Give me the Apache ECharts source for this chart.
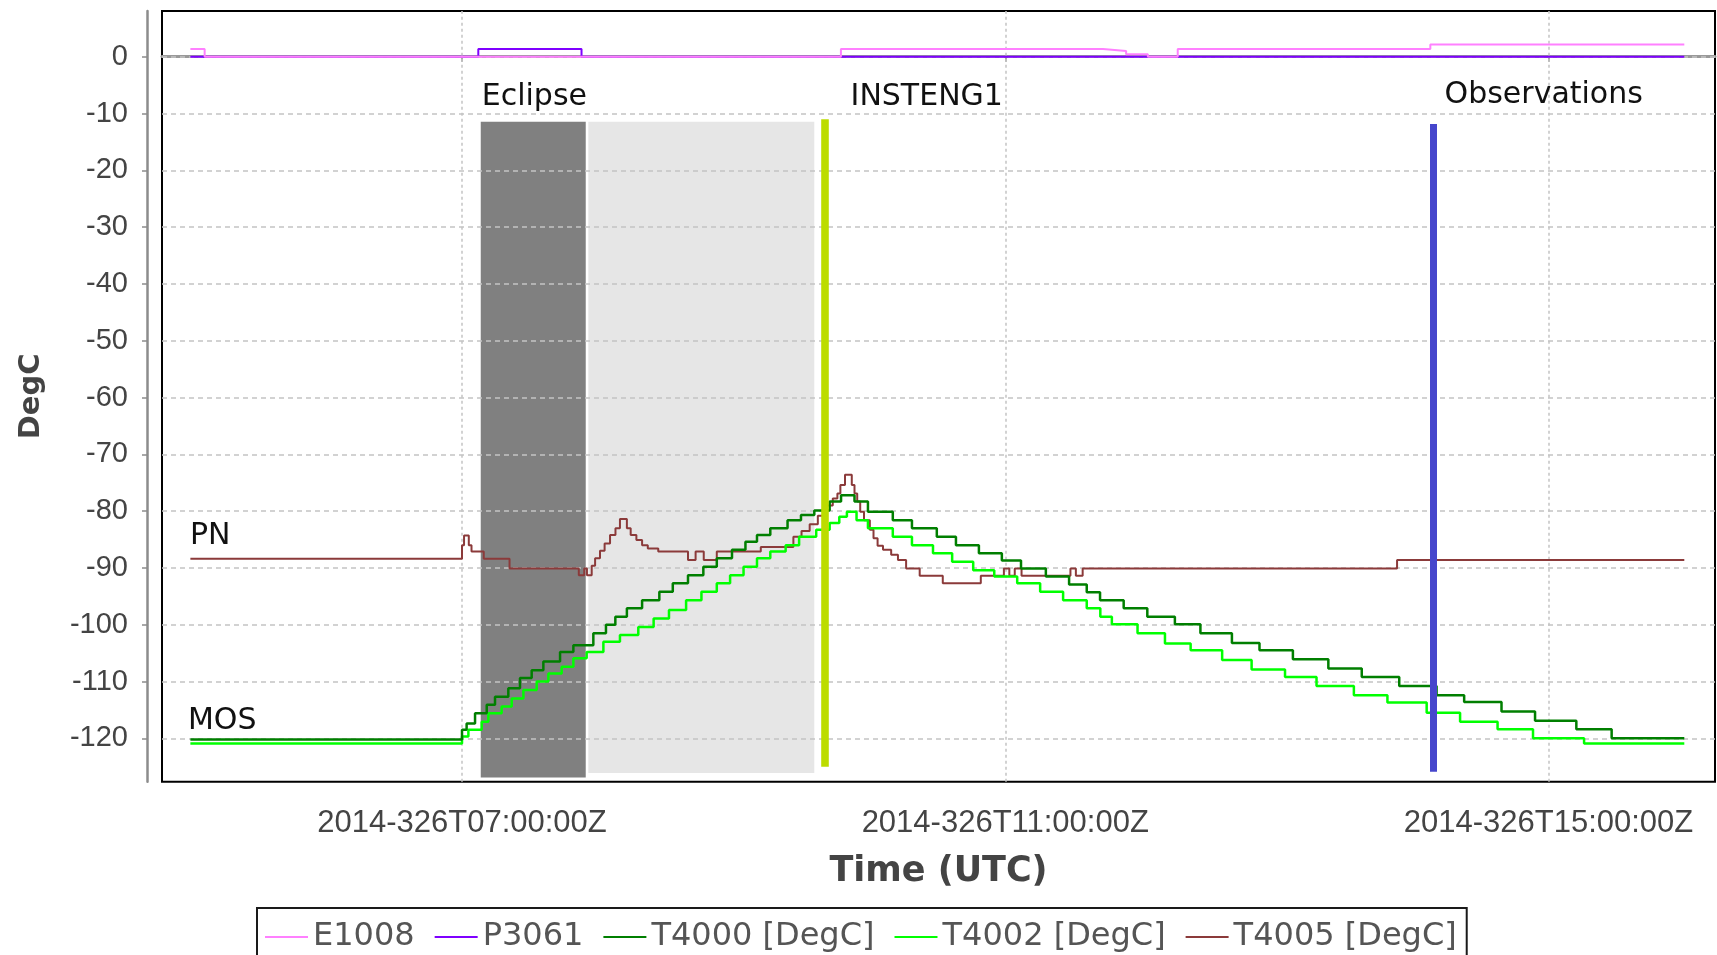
<!DOCTYPE html>
<html><head><meta charset="utf-8">
<script src="https://cdn.jsdelivr.net/npm/echarts@6/dist/echarts.min.js"></script>
<style>html,body{margin:0;padding:0;background:#fff}#c{width:1717px;height:955px}</style>
</head><body><div id="c"></div>
<script>
// ---- data (time in decimal hours UTC of 2014-326, values in DegC) ----
const DOY_PREFIX = '2014-326T';
const xTickHours = [7, 11, 15];
const yTickValues = [0, -10, -20, -30, -40, -50, -60, -70, -80, -90, -100, -110, -120];

const E1008 = [[5.000,1.35],[5.105,0],[9.790,1.35],[11.720,1.0],[11.890,0.41],[12.050,0],[12.270,1.35],[14.130,2.17],[16.000,2.17]];
const P3061 = [[5.000,0],[7.120,1.35],[7.880,0],[16.000,0]];

const T4000 = [[5.000,-120.2],[7.000,-118.5],[7.034,-117.4],[7.096,-115.6],[7.182,-114.1],[7.243,-112.7],[7.341,-111.2],[7.427,-109.4],
  [7.513,-108.0],[7.599,-106.5],[7.722,-104.8],[7.820,-103.6],[7.967,-101.5],[8.060,-100.0],[8.129,-98.6],[8.214,-97.1],[8.326,-95.7],
  [8.453,-94.2],[8.552,-92.7],[8.664,-91.3],[8.777,-89.8],[8.876,-88.3],[8.988,-86.8],[9.087,-85.4],[9.172,-84.2],[9.270,-83.0],
  [9.397,-81.6],[9.496,-80.7],[9.594,-79.9],[9.707,-78.3],[9.791,-77.2],[9.890,-78.3],[9.989,-80.1],[10.172,-81.6],[10.313,-83.0],
  [10.496,-84.5],[10.637,-86.0],[10.806,-87.4],[10.975,-88.7],[11.116,-90.1],[11.299,-91.5],[11.470,-92.9],[11.600,-94.3],[11.698,-95.7],
  [11.872,-97.1],[12.046,-98.6],[12.249,-99.9],[12.437,-101.5],[12.669,-103.2],[12.872,-104.5],[13.118,-106.1],[13.379,-107.7],
  [13.625,-109.2],[13.901,-110.8],[14.176,-112.4],[14.379,-113.6],[14.654,-115.3],[14.901,-116.9],[15.205,-118.4],[15.465,-120.0],[16.000,-120.0]];

const T4002 = [[5.000,-120.9],[7.000,-119.7],[7.047,-118.5],[7.145,-117.1],[7.194,-115.6],[7.292,-114.4],[7.366,-113.0],[7.452,-111.5],
  [7.550,-110.0],[7.636,-108.6],[7.734,-107.4],[7.820,-105.9],[7.918,-104.8],[8.041,-103.0],[8.163,-101.8],[8.298,-100.4],[8.411,-98.9],
  [8.524,-97.4],[8.650,-95.7],[8.763,-94.2],[8.876,-92.7],[8.974,-91.3],[9.073,-89.8],[9.172,-88.3],[9.270,-87.1],[9.383,-86.0],
  [9.482,-84.5],[9.608,-83.3],[9.707,-82.1],[9.778,-81.0],[9.834,-80.1],[9.905,-81.6],[9.989,-83.0],[10.172,-84.5],[10.313,-86.0],
  [10.468,-87.4],[10.609,-88.9],[10.764,-90.4],[10.919,-91.5],[11.088,-92.7],[11.257,-94.2],[11.426,-95.7],[11.600,-97.1],[11.700,-98.6],
  [11.785,-99.9],[11.974,-101.5],[12.176,-103.3],[12.365,-104.5],[12.597,-106.2],[12.814,-107.9],[13.060,-109.2],[13.292,-110.8],
  [13.567,-112.4],[13.814,-113.7],[14.103,-115.5],[14.349,-117.1],[14.625,-118.4],[14.886,-120.0],[15.262,-120.9],[16.000,-120.9]];

const T4005 = [[5.000,-88.4],[7.000,-86.0],[7.015,-84.3],[7.050,-86.0],[7.070,-87.1],[7.160,-88.4],[7.350,-90.1],[7.860,-91.3],
  [7.900,-90.1],[7.920,-91.3],[7.955,-89.6],[7.980,-88.3],[8.016,-87.0],[8.050,-85.7],[8.090,-84.2],[8.130,-83.0],[8.163,-81.4],
  [8.214,-83.0],[8.242,-84.2],[8.284,-85.1],[8.326,-86.0],[8.368,-86.6],[8.445,-87.1],[8.664,-88.6],[8.720,-87.1],[8.780,-88.6],
  [8.876,-87.1],[9.200,-86.3],[9.440,-84.5],[9.500,-83.5],[9.560,-82.3],[9.620,-80.8],[9.680,-79.0],[9.730,-77.8],[9.764,-76.9],
  [9.786,-75.4],[9.820,-73.6],[9.870,-75.4],[9.890,-76.9],[9.910,-78.3],[9.932,-80.1],[9.960,-81.6],[10.003,-83.3],[10.030,-84.8],
  [10.060,-86.1],[10.100,-86.8],[10.160,-87.7],[10.210,-88.6],[10.270,-90.1],[10.370,-91.4],[10.540,-92.7],[10.820,-91.4],
  [10.990,-90.1],[11.030,-91.4],[11.070,-90.1],[11.120,-91.4],[11.480,-90.1],[11.520,-91.4],[11.570,-90.1],[13.885,-88.6],[16.000,-88.6]];

// event times (hours)
const eclipseStart = 7.138, umbraEnd = 7.911, penumbraStart = 7.930, penumbraEnd = 9.594;
const insteng1Time = 9.673, observationsTime = 14.150;

// ---- chart ----
const annFont = {fontFamily: 'DejaVu Sans', fontSize: 30, color: '#111'};
const chart = echarts.init(document.getElementById('c'), null, {renderer: 'canvas'});
chart.setOption({
  animation: false,
  backgroundColor: '#fff',
  grid: {left: 162, right: 2, top: 11, bottom: 173.3, show: true, borderColor: '#000', borderWidth: 2,
         backgroundColor: 'transparent', outerBoundsMode: 'none', containLabel: false},
  legend: {
    left: 257, top: 908, orient: 'horizontal', padding: [11, 10, 27, 8],
    borderColor: '#1a1a1a', borderWidth: 2, backgroundColor: '#fff',
    icon: 'rect', itemWidth: 43, itemHeight: 2, itemGap: 20,
    textStyle: {fontFamily: 'DejaVu Sans', fontSize: 32, color: '#555', lineHeight: 36},
    data: ['E1008', 'P3061', 'T4000 [DegC]', 'T4002 [DegC]', 'T4005 [DegC]']
  },
  xAxis: {
    type: 'value', min: 4.791, max: 16.226, offset: 9,
    name: 'Time (UTC)', nameLocation: 'middle', nameGap: 61,
    nameTextStyle: {fontFamily: 'DejaVu Sans', fontWeight: 'bold', fontSize: 35, color: '#444', lineHeight: 40},
    axisLine: {show: true, lineStyle: {color: '#999', width: 3}},
    axisTick: {show: true, length: 5, customValues: xTickHours, lineStyle: {color: '#888', width: 1.5}},
    axisLabel: {customValues: xTickHours, margin: 17, fontFamily: 'Liberation Sans', fontSize: 31, color: '#444',
      formatter: v => DOY_PREFIX + String(Math.round(v)).padStart(2, '0') + ':00:00Z'},
    splitLine: {show: false}
  },
  yAxis: {
    type: 'value', min: -127.64, max: 8.046, offset: 15, z: 2,
    minInterval: 10, maxInterval: 10,
    name: 'DegC', nameLocation: 'middle', nameGap: 99, nameRotate: 90,
    nameTextStyle: {fontFamily: 'DejaVu Sans', fontWeight: 'bold', fontSize: 29, color: '#444', lineHeight: 34},
    axisLine: {show: true, lineStyle: {color: '#8c8c8c', width: 2.5}},
    axisTick: {show: true, length: 5, customValues: yTickValues, lineStyle: {color: '#8c8c8c', width: 1.5}},
    axisLabel: {customValues: yTickValues, margin: 19, fontFamily: 'Liberation Sans', fontSize: 29, color: '#444'},
    splitLine: {show: true, lineStyle: {color: '#c4c4c4', width: 1.5, type: [5, 4]}}
  },
  series: [
    {name: 'E1008', type: 'line', step: 'end', symbol: 'none', z: 4, color: '#ff80ff',
     lineStyle: {width: 2}, data: E1008},
    {name: 'P3061', type: 'line', step: 'end', symbol: 'none', z: 3, color: '#7f00ff',
     lineStyle: {width: 2}, data: P3061,
     markArea: {silent: true, z: 1, data: [
       [{name: 'Eclipse', xAxis: eclipseStart, yAxis: -11.44, itemStyle: {color: '#808080', opacity: 1},
         label: Object.assign({show: true, position: [1, -24], align: 'left', verticalAlign: 'middle'}, annFont)},
        {xAxis: umbraEnd, yAxis: -126.9}],
       [{name: '', xAxis: penumbraStart, yAxis: -11.44, itemStyle: {color: '#e6e6e6', opacity: 1}, label: {show: false}},
        {xAxis: penumbraEnd, yAxis: -126.1}]
     ]},
     markLine: {silent: true, z: 1, symbol: ['none', 'none'], label: {show: false},
       lineStyle: {color: '#c4c4c4', width: 1.5, type: [3, 3]},
       data: xTickHours.map(h => ({xAxis: h}))}
    },
    {name: 'T4000 [DegC]', type: 'line', step: 'end', symbol: 'none', z: 7, color: '#007f00',
     lineStyle: {width: 2.5}, data: T4000,
     markLine: {silent: true, z: 8, symbol: ['none', 'none'], label: {show: false},
       data: [
         [{coord: [insteng1Time, -11.0], lineStyle: {color: '#bcdc00', width: 7.6, type: 'solid'}}, {coord: [insteng1Time, -125.0]}],
         [{coord: [observationsTime, -11.85], lineStyle: {color: '#4646cc', width: 7, type: 'solid'}}, {coord: [observationsTime, -125.9]}]
       ]},
     markPoint: {silent: true, z: 8, symbol: 'rect', symbolSize: 1, itemStyle: {color: 'rgba(0,0,0,0)'},
       data: [
         {name: 'INSTENG1', coord: [insteng1Time, -11.0],
          label: Object.assign({show: true, formatter: '{b}', position: [26, -21], align: 'left', verticalAlign: 'middle'}, annFont)},
         {name: 'Observations', coord: [observationsTime, -11.85],
          label: Object.assign({show: true, formatter: '{b}', position: [12, -28], align: 'left', verticalAlign: 'middle'}, annFont)}
       ]}
    },
    {name: 'T4002 [DegC]', type: 'line', step: 'end', symbol: 'none', z: 6, color: '#00ff00',
     lineStyle: {width: 2.5}, data: T4002,
     markPoint: {silent: true, z: 8, symbol: 'rect', symbolSize: 1, itemStyle: {color: 'rgba(0,0,0,0)'},
       data: [{name: 'MOS', coord: [5.0, -120.9],
         label: Object.assign({show: true, formatter: '{b}', position: [-2, -22], align: 'left', verticalAlign: 'middle'}, annFont)}]}
    },
    {name: 'T4005 [DegC]', type: 'line', step: 'end', symbol: 'none', z: 5, color: '#8b3a3a',
     lineStyle: {width: 2}, data: T4005,
     markPoint: {silent: true, z: 8, symbol: 'rect', symbolSize: 1, itemStyle: {color: 'rgba(0,0,0,0)'},
       data: [{name: 'PN', coord: [5.0, -88.4],
         label: Object.assign({show: true, formatter: '{b}', position: [0, -22], align: 'left', verticalAlign: 'middle'}, annFont)}]}
    }
  ]
});
</script></body></html>
